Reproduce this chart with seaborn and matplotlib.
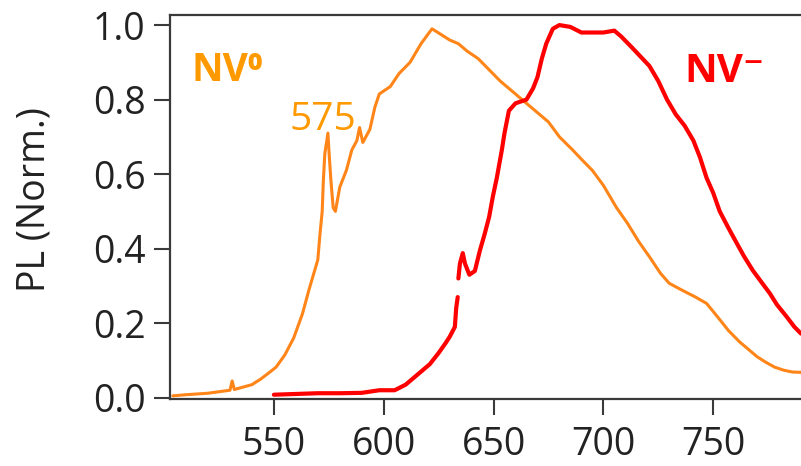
import numpy as np
import pandas as pd
import matplotlib
matplotlib.use("Agg")
import matplotlib.pyplot as plt
import seaborn as sns

# ---- data ----
nv0_wl = [504, 510, 520, 530, 531, 532, 540, 544, 548, 551, 555, 559, 563, 566, 568,
          570, 571, 572, 572.5, 573.2, 574.6, 575.2, 576, 577, 578, 580, 583, 585.5,
          587.8, 589, 590.5, 593.7, 596, 598, 603, 607, 612, 617, 622, 626, 630, 634,
          638, 643, 648, 653, 658, 663, 669, 675, 680, 686, 690, 695, 700, 706, 711,
          716, 721, 726, 730, 736, 742, 747, 752, 757, 762, 766, 770, 774, 778, 782,
          786, 790]
nv0_pl = [0.005, 0.008, 0.012, 0.020, 0.045, 0.022, 0.035, 0.050, 0.068, 0.082, 0.115,
          0.160, 0.225, 0.290, 0.330, 0.370, 0.440, 0.500, 0.580, 0.655, 0.710, 0.650,
          0.580, 0.510, 0.500, 0.565, 0.610, 0.665, 0.690, 0.725, 0.685, 0.720, 0.780,
          0.815, 0.835, 0.870, 0.900, 0.950, 0.990, 0.975, 0.960, 0.950, 0.930, 0.910,
          0.880, 0.850, 0.825, 0.800, 0.770, 0.740, 0.700, 0.665, 0.640, 0.610, 0.570,
          0.510, 0.468, 0.420, 0.378, 0.334, 0.307, 0.288, 0.270, 0.253, 0.217, 0.180,
          0.150, 0.130, 0.110, 0.095, 0.082, 0.074, 0.069, 0.068]

# NV- spectrum: two segments (small gap near 634 nm)
nvm_wl_a = [550, 560, 570, 580, 590, 598, 605, 610, 613, 617, 621, 625, 628, 630,
            632.4, 633, 633.7]
nvm_pl_a = [0.008, 0.010, 0.012, 0.012, 0.013, 0.020, 0.020, 0.035, 0.050, 0.070,
            0.090, 0.120, 0.145, 0.163, 0.190, 0.240, 0.270]
nvm_wl_b = [634, 634.7, 636, 637, 639, 641.5, 643.8, 646, 648, 649.7, 651.5, 653.8,
            655, 657, 660, 665, 668, 670, 672, 674, 677, 680, 685, 690, 695, 700, 705,
            708, 713, 717, 721, 725, 729, 733, 737, 741, 744, 747, 750, 753, 757, 760.7,
            764, 768, 772, 775.8, 779, 783.5, 787, 790]
nvm_pl_b = [0.320, 0.360, 0.388, 0.360, 0.330, 0.340, 0.395, 0.440, 0.485, 0.540,
            0.590, 0.665, 0.710, 0.770, 0.790, 0.800, 0.830, 0.860, 0.910, 0.950, 0.990,
            1.000, 0.995, 0.980, 0.980, 0.980, 0.985, 0.970, 0.940, 0.915, 0.890, 0.850,
            0.800, 0.760, 0.730, 0.690, 0.645, 0.590, 0.550, 0.500, 0.455, 0.415, 0.380,
            0.342, 0.310, 0.280, 0.250, 0.217, 0.190, 0.172]

x_ticks = [550, 600, 650, 700, 750]
y_ticks = [0.0, 0.2, 0.4, 0.6, 0.8, 1.0]

df0 = pd.DataFrame({"wl": nv0_wl, "pl": nv0_pl})
dfm = pd.concat([
    pd.DataFrame({"wl": nvm_wl_a, "pl": nvm_pl_a, "seg": "a"}),
    pd.DataFrame({"wl": nvm_wl_b, "pl": nvm_pl_b, "seg": "b"}),
], ignore_index=True)

sns.set_theme(style="white")
plt.rcParams["font.family"] = ["Open Sans", "DejaVu Sans"]

fig = plt.figure(figsize=(8.01, 4.66), dpi=100)
ax = fig.add_axes([170 / 801, 67 / 466, 631 / 801, 384 / 466])

ORANGE_LINE = "#FF8519"
ORANGE_TEXT = "#FF9900"
RED = "#FF0000"

sns.lineplot(data=df0, x="wl", y="pl", ax=ax, color=ORANGE_LINE, lw=2.2,
             estimator=None, sort=False)
sns.lineplot(data=dfm, x="wl", y="pl", units="seg", ax=ax, color=RED, lw=3.0,
             estimator=None, sort=False)

ax.set_xlim(502.7, 790)
ax.set_ylim(-0.0035, 1.027)
ax.set_xticks(x_ticks)
ax.set_yticks(y_ticks)
ax.set_xticklabels([str(v) for v in x_ticks])
ax.set_yticklabels([f"{v:.1f}" for v in y_ticks])
ax.set_xlabel("")
ax.set_ylabel("PL (Norm.)", fontsize=27, color="#222222")
ax.yaxis.set_label_coords(-0.185, 0.52)

for side in ["left", "top", "bottom"]:
    ax.spines[side].set_visible(True)
    ax.spines[side].set_color("#3a3a3a")
    ax.spines[side].set_linewidth(1.6)
ax.spines["right"].set_visible(False)

ax.tick_params(axis="both", direction="out", length=11.5, width=1.5,
               color="#3a3a3a", labelsize=27, labelcolor="#222222",
               left=True, bottom=True)
ax.tick_params(axis="y", pad=6)
ax.tick_params(axis="x", pad=8)
ax.grid(False)

ax.text(512.7, 0.85, "NV\u2070", color=ORANGE_TEXT, fontsize=28, fontweight="bold",
        ha="left", va="baseline")
ax.text(557.3, 0.718, "575", color=ORANGE_TEXT, fontsize=28,
        ha="left", va="baseline")
ax.text(737, 0.847, "NV\u207B", color=RED, fontsize=29, fontweight="bold",
        ha="left", va="baseline")

fig.savefig("out.png", dpi=100)
